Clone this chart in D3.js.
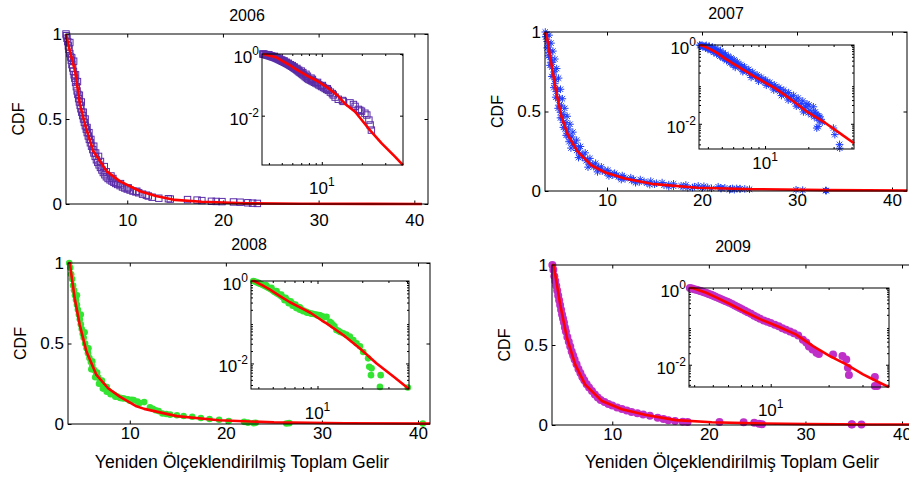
<!DOCTYPE html>
<html>
<head>
<meta charset="utf-8">
<script src="https://cdn.jsdelivr.net/npm/d3@7"></script>
<style>
  html, body { margin: 0; padding: 0; background: #fff; }
  svg { display: block; }
</style>
</head>
<body>
<svg id="chart" width="909" height="478"></svg>
<script>
// ---- data ----
const years = ['2006', '2007', '2008', '2009'];
const xTicks = [10, 20, 30, 40];
const yTicks = [0, 0.5, 1];
const xLabel = 'Yeniden Ölçeklendirilmiş Toplam Gelir';
const yLabel = 'CDF';

// 2006 - open squares
const x2006 = [3.6,3.65,3.7,3.78,3.85,3.92,4.0,4.08,4.15,4.22,4.3,4.38,4.45,4.52,4.6,4.68,4.76,4.84,4.92,5.0,
  5.08,5.16,5.25,5.34,5.43,5.52,5.62,5.72,5.82,5.93,6.04,6.15,6.27,6.4,6.52,6.65,6.78,6.92,7.06,7.2,
  7.35,7.5,7.66,7.82,8.0,8.2,8.4,8.6,8.8,9.0,9.25,9.5,9.75,10.0,10.3,10.6,10.9,11.2,11.6,12.0,
  12.2,12.6,13.3,14.3,14.5,16.3,17.3,17.8,18.8,19.3,19.9,21.1,21.8,22.6,23.1,23.6,
  4.0,4.4,4.8,5.2,5.6,6.0,6.5,7.0,7.6,8.3,
  4.2,4.6,5.0,5.4,5.8,6.2,6.7,7.2,7.8,8.5,9.3,10.1,11.0];
const y2006 = [1.0,0.99,0.975,0.955,0.93,0.91,0.885,0.865,0.845,0.82,0.8,0.78,0.76,0.74,0.715,0.69,0.665,0.645,0.62,0.6,
  0.58,0.56,0.54,0.52,0.5,0.48,0.46,0.44,0.42,0.4,0.38,0.36,0.34,0.32,0.3,0.28,0.26,0.245,0.23,0.215,
  0.2,0.185,0.172,0.16,0.15,0.142,0.135,0.128,0.121,0.115,0.108,0.1,0.094,0.088,0.082,0.076,0.071,0.066,0.058,0.052,
  0.047,0.04,0.034,0.031,0.029,0.026,0.023,0.02,0.016,0.015,0.014,0.012,0.0105,0.0072,0.005,0.0034,
  0.95,0.84,0.72,0.6,0.5,0.42,0.34,0.28,0.22,0.165,
  0.86,0.76,0.64,0.54,0.45,0.38,0.3,0.25,0.19,0.15,0.12,0.095,0.075];
const fitX2006 = [3.6, 4.0, 4.55, 5.07, 5.6, 6.46, 7.86, 9.25, 11.34, 13.0, 15.0, 17.8, 22.4, 28.2, 35.5, 40.8];
const fitY2006 = [1.0, 0.9, 0.78, 0.584, 0.466, 0.31, 0.192, 0.133, 0.075, 0.047, 0.024, 0.0134, 0.0039, 0.00126, 0.00047, 0.00025];

// 2007 - asterisks
const x2007 = [3.5,3.6,3.7,3.8,3.9,4.0,4.1,4.2,4.35,4.5,4.65,4.8,4.95,5.1,5.25,5.4,5.6,5.8,6.0,6.25,
  6.5,6.8,7.1,7.4,7.8,8.2,8.6,9.0,9.5,10.0,10.6,11.2,11.9,12.6,13.4,14.2,15.0,16.0,17.0,18.0,
  19.0,20.0,21.0,22.0,23.0,24.0,25.0,
  3.9,4.1,4.3,4.5,4.7,4.9,5.1,5.3,5.55,5.8,6.1,6.4,6.8,7.2,7.7,8.2,8.8,9.4,10.1,10.8,
  11.6,12.5,13.5,14.6,15.8,17.0,18.3,19.6,20.2,21.7,22.4,23.65,24.0,
  3.65,3.85,4.05,4.25,4.45,4.6,4.8,5.0,5.2,5.45,5.7,5.95,6.3,6.6,7.0,7.45,7.95,8.5,9.1,9.8,
  10.4,11.0,11.8,12.8,13.9,15.2,16.5,17.8,19.2,20.6,22.0,23.2,24.5,
  3.55,3.7,3.85,4.0,4.2,4.4,4.6,4.85,5.1,5.4,5.7,6.0,
  6.2,7.0,8.0,9.0,10.2,11.5,13.0,14.5,16.5,18.5,
  22.9,23.4,29.9,30.6,33.0,33.1];
const y2007 = [1.0,0.97,0.94,0.905,0.87,0.84,0.81,0.78,0.73,0.675,0.625,0.58,0.54,0.495,0.46,0.43,0.39,0.36,0.335,0.31,
  0.285,0.255,0.232,0.212,0.19,0.168,0.153,0.14,0.125,0.113,0.1,0.088,0.077,0.066,0.057,0.05,0.043,0.036,0.03,0.026,
  0.022,0.019,0.017,0.015,0.0135,0.012,0.011,
  0.98,0.93,0.88,0.83,0.77,0.71,0.64,0.58,0.52,0.47,0.42,0.37,0.32,0.28,0.24,0.205,0.175,0.152,0.13,0.112,
  0.097,0.084,0.072,0.062,0.053,0.045,0.038,0.032,0.03,0.027,0.02,0.016,0.015,
  0.985,0.93,0.875,0.81,0.75,0.7,0.64,0.585,0.535,0.48,0.43,0.39,0.34,0.3,0.265,0.228,0.195,0.168,0.146,0.127,
  0.112,0.1,0.087,0.073,0.06,0.049,0.04,0.033,0.027,0.022,0.019,0.016,0.013,
  0.97,0.9,0.85,0.79,0.72,0.65,0.59,0.52,0.46,0.4,0.35,0.31,
  0.27,0.21,0.15,0.12,0.095,0.072,0.052,0.04,0.028,0.02,
  0.0078,0.0085,0.0078,0.0053,0.003,0.0024];
const fitX2007 = [3.47, 3.7, 4.13, 4.66, 5.19, 5.89, 6.94, 8.34, 9.75, 11.86, 14.7, 19.5, 25.4, 33.1, 41.6];
const fitY2007 = [1.0, 0.96, 0.8, 0.62, 0.47, 0.35, 0.245, 0.162, 0.118, 0.078, 0.045, 0.0205, 0.0114, 0.0058, 0.0032];

// 2008 - green dots
const x2008 = [3.7,3.8,3.9,4.0,4.1,4.2,4.3,4.4,4.5,4.6,4.7,4.8,4.9,5.0,5.1,5.2,5.35,5.5,5.65,5.8,
  5.95,6.1,6.3,6.5,6.7,6.9,7.1,7.3,7.55,7.8,8.1,8.4,8.7,9.0,9.4,9.8,10.2,10.4,10.8,11.5,
  12.1,12.7,13.4,14.2,14.9,15.6,16.5,17.4,18.3,19.3,20.3,21.9,22.3,23.1,22.9,26.6,26.3,40.5,
  4.5,4.9,5.3,5.7,6.1,6.6,7.1,7.6,
  6.0,6.4,6.8,7.2,7.6,8.0,8.5,9.2,10.0,11.0,12.4,13.0,13.8];
const y2008 = [1.0,0.97,0.93,0.9,0.86,0.83,0.8,0.77,0.74,0.71,0.68,0.65,0.62,0.59,0.56,0.535,0.5,0.47,0.44,0.41,
  0.385,0.36,0.335,0.31,0.29,0.27,0.25,0.235,0.22,0.205,0.19,0.18,0.17,0.162,0.158,0.154,0.15,0.148,0.14,0.136,
  0.103,0.085,0.065,0.058,0.054,0.05,0.045,0.037,0.031,0.026,0.019,0.0133,0.0083,0.0076,0.0052,0.0052,0.0027,0.0026,
  0.8,0.68,0.57,0.47,0.39,0.32,0.27,0.23,
  0.34,0.29,0.25,0.22,0.2,0.185,0.17,0.16,0.145,0.13,0.095,0.08,0.062];
const fitX2008 = [3.6, 3.75, 4.27, 4.79, 5.49, 6.53, 7.74, 8.96, 10.7, 11.5, 14.9, 19.3, 25.0, 32.4, 41.25];
const fitY2008 = [1.0, 1.0, 0.78, 0.616, 0.45, 0.305, 0.222, 0.17, 0.11, 0.094, 0.049, 0.023, 0.01, 0.0048, 0.0024];

// 2009 - magenta dots
const x2009 = [3.8,3.9,4.0,4.1,4.2,4.3,4.4,4.5,4.6,4.7,4.8,4.9,5.0,5.1,5.2,5.35,5.5,5.65,5.8,5.95,
  6.1,6.3,6.5,6.7,6.9,7.1,7.35,7.6,7.9,8.2,8.5,8.8,9.2,9.6,10.0,10.5,11.0,11.5,12.0,12.6,
  13.2,13.9,14.7,15.3,15.8,16.5,17.3,17.8,21.1,23.6,24.7,25.2,25.5,34.8,34.8,35.8];
const y2009 = [1.0,0.97,0.93,0.9,0.87,0.84,0.81,0.78,0.75,0.72,0.69,0.665,0.64,0.61,0.585,0.55,0.52,0.49,0.46,0.435,
  0.41,0.38,0.35,0.325,0.3,0.28,0.255,0.235,0.212,0.19,0.172,0.157,0.143,0.132,0.122,0.11,0.1,0.09,0.082,0.074,
  0.066,0.058,0.045,0.038,0.03,0.025,0.0205,0.019,0.0185,0.0168,0.0138,0.0083,0.0054,0.0048,0.0028,0.0028];
const fitX2009 = [3.76, 3.93, 4.62, 5.31, 6.17, 7.2, 8.93, 11.0, 13.5, 16.6, 20.3, 24.7, 30.2, 36.9, 41.2];
const fitY2009 = [1.0, 1.0, 0.75, 0.544, 0.377, 0.252, 0.15, 0.098, 0.062, 0.0306, 0.0168, 0.0102, 0.0056, 0.0034, 0.0026];

// ---- layout ----
const font = '"Liberation Sans", Arial, Helvetica, sans-serif';
const fs = 17;
const red = '#ff0000';

const panels = [
  { title: years[0], xs: x2006, ys: y2006, fx: fitX2006, fy: fitY2006, marker: 'square', color: '#5a2da8',
    main: { l: 66, t: 34, r: 428, b: 204 }, xDomain: [3.6, 41.43], xPad: 9.5,
    ins: { l: 262, t: 54, r: 403, b: 165 }, insX: [3.55, 40.8], insYMin: Math.pow(10, -3.6), insMinorY: false, insLab: 23,
    xl: false },
  { title: years[1], xs: x2007, ys: y2007, fx: fitX2007, fy: fitY2007, marker: 'star', color: '#1e3cff',
    main: { l: 545, t: 32, r: 907, b: 191 }, xDomain: [3.47, 41.58], xPad: 3,
    ins: { l: 699, t: 45, r: 854, b: 149 }, insX: [3.47, 41.6], insYMin: Math.pow(10, -2.64), insMinorY: true, insLab: 14,
    xl: false },
  { title: years[2], xs: x2008, ys: y2008, fx: fitX2008, fy: fitY2008, marker: 'dot', color: '#33e433', r: 3.3,
    main: { l: 68, t: 263, r: 430, b: 424 }, xDomain: [3.57, 41.25], xPad: 3,
    ins: { l: 251, t: 281, r: 409, b: 389 }, insX: [3.57, 41.25], insYMin: Math.pow(10, -2.62), insMinorY: true, insLab: 24,
    xl: true, xlX: 242 },
  { title: years[3], xs: x2009, ys: y2009, fx: fitX2009, fy: fitY2009, marker: 'dot', color: '#bf30c8', r: 4,
    main: { l: 552, t: 265, r: 914, b: 425 }, xDomain: [3.76, 41.24], xPad: 3,
    ins: { l: 689, t: 288, r: 889, b: 387 }, insX: [3.76, 41.2], insYMin: Math.pow(10, -2.58), insMinorY: true, insLab: 23,
    xl: true, xlX: 732 }
];

const svg = d3.select('#chart');
svg.append('rect').attr('width', 909).attr('height', 478).attr('fill', '#fff');

function styleAxis(sel) {
  sel.select('.domain').remove();
  sel.attr('font-family', font).attr('font-size', fs);
  sel.selectAll('line').attr('stroke', '#000');
}

function drawMarkers(g, p, x, y) {
  const pts = p.xs.map((d, i) => [d, p.ys[i]]);
  if (p.marker === 'square') {
    g.selectAll(null).data(pts).enter().append('rect')
      .attr('x', d => x(d[0]) - 3.2).attr('y', d => y(d[1]) - 3.2)
      .attr('width', 6.4).attr('height', 6.4)
      .attr('fill', 'none').attr('stroke', p.color).attr('stroke-width', 1);
  } else if (p.marker === 'star') {
    const h = 3.8, k = 2.7;
    g.selectAll(null).data(pts).enter().append('path')
      .attr('transform', d => `translate(${x(d[0])},${y(d[1])})`)
      .attr('d', `M${-h},0L${h},0M0,${-h}L0,${h}M${-k},${-k}L${k},${k}M${-k},${k}L${k},${-k}`)
      .attr('stroke', p.color).attr('stroke-width', 1).attr('fill', 'none');
  } else {
    g.selectAll(null).data(pts).enter().append('circle')
      .attr('cx', d => x(d[0])).attr('cy', d => y(d[1])).attr('r', p.r)
      .attr('fill', p.color);
  }
}

function drawFit(g, p, x, y) {
  const line = d3.line().x(d => x(d[0])).y(d => y(d[1]));
  g.append('path').datum(p.fx.map((d, i) => [d, p.fy[i]]))
    .attr('d', line).attr('fill', 'none').attr('stroke', red)
    .attr('stroke-width', 2.6).attr('stroke-linejoin', 'round');
}

function powLabel(g, px, py, exp, anchor) {
  const t = g.append('text').attr('x', px).attr('y', py).attr('text-anchor', anchor)
    .attr('font-family', font).attr('font-size', fs);
  t.append('tspan').text('10');
  t.append('tspan').attr('dy', -8).attr('font-size', 12).text(exp);
}

function drawPanel(p) {
  const g = svg.append('g');
  const m = p.main;
  const x = d3.scaleLinear().domain(p.xDomain).range([m.l, m.r]);
  const y = d3.scaleLinear().domain([0, 1]).range([m.b, m.t]);

  // main axes
  g.append('g').attr('transform', `translate(0,${m.b})`)
    .call(d3.axisBottom(x).tickValues(xTicks).tickSize(-3.5).tickPadding(p.xPad).tickFormat(d => `${d}`))
    .call(styleAxis);
  g.append('g').attr('transform', `translate(0,${m.t})`)
    .call(d3.axisTop(x).tickValues(xTicks).tickSize(-3.5).tickFormat(''))
    .call(styleAxis);
  g.append('g').attr('transform', `translate(${m.l},0)`)
    .call(d3.axisLeft(y).tickValues(yTicks).tickSize(-3.5).tickPadding(4).tickFormat(d => `${d}`))
    .call(styleAxis);
  g.append('g').attr('transform', `translate(${m.r},0)`)
    .call(d3.axisRight(y).tickValues(yTicks).tickSize(-3.5).tickFormat(''))
    .call(styleAxis);

  drawMarkers(g, p, x, y);
  drawFit(g, p, x, y);

  g.append('rect').attr('x', m.l).attr('y', m.t).attr('width', m.r - m.l).attr('height', m.b - m.t)
    .attr('fill', 'none').attr('stroke', '#000').attr('stroke-width', 1);

  // labels
  g.append('text').attr('x', (m.l + m.r) / 2).attr('y', m.t - 19).attr('dy', '0.35em')
    .attr('text-anchor', 'middle').attr('font-family', font).attr('font-size', fs - 1).text(p.title);
  g.append('text').attr('transform', `translate(${m.l - 48},${(m.t + m.b) / 2}) rotate(-90)`)
    .attr('dy', '0.35em').attr('text-anchor', 'middle')
    .attr('font-family', font).attr('font-size', fs - 1).text(yLabel);
  if (p.xl) {
    g.append('text').attr('x', p.xlX).attr('y', 462).attr('dy', '0.35em')
      .attr('text-anchor', 'middle').attr('font-family', font).attr('font-size', 17.6).text(xLabel);
  }

  // inset, log-log
  const n = p.ins;
  const xl = d3.scaleLog().domain(p.insX).range([n.l, n.r]);
  const yl = d3.scaleLog().domain([p.insYMin, 1]).range([n.b, n.t]);
  const gi = g.append('g');
  gi.append('rect').attr('x', n.l).attr('y', n.t).attr('width', n.r - n.l).attr('height', n.b - n.t)
    .attr('fill', '#fff');

  const minorX = [4, 5, 6, 7, 8, 9, 20, 30, 40].filter(v => v > p.insX[0] && v < p.insX[1]);
  const minorY = [];
  if (p.insMinorY) {
    [0.001, 0.01, 0.1].forEach(dec => {
      for (let k = 2; k <= 9; k++) {
        const v = dec * k;
        if (v > p.insYMin && v < 1) minorY.push(v);
      }
    });
  }
  const majorY = [0.01, 1];

  [[d3.axisBottom, n.b], [d3.axisTop, n.t]].forEach(([ax, pos]) => {
    gi.append('g').attr('transform', `translate(0,${pos})`)
      .call(ax(xl).tickValues([10]).tickSize(-3).tickFormat('')).call(styleAxis);
    gi.append('g').attr('transform', `translate(0,${pos})`)
      .call(ax(xl).tickValues(minorX).tickSize(-2).tickFormat('')).call(styleAxis);
  });
  [[d3.axisLeft, n.l], [d3.axisRight, n.r]].forEach(([ax, pos]) => {
    gi.append('g').attr('transform', `translate(${pos},0)`)
      .call(ax(yl).tickValues(majorY).tickSize(-3).tickFormat('')).call(styleAxis);
    if (minorY.length) {
      gi.append('g').attr('transform', `translate(${pos},0)`)
        .call(ax(yl).tickValues(minorY).tickSize(-2).tickFormat('')).call(styleAxis);
    }
  });

  drawMarkers(gi, p, xl, yl);
  drawFit(gi, p, xl, yl);

  gi.append('rect').attr('x', n.l).attr('y', n.t).attr('width', n.r - n.l).attr('height', n.b - n.t)
    .attr('fill', 'none').attr('stroke', '#000').attr('stroke-width', 1);

  powLabel(gi, n.l - 3, yl(1) + 9, '0', 'end');
  powLabel(gi, n.l - 3, yl(0.01) + 9, '-2', 'end');
  powLabel(gi, xl(10), n.b + p.insLab + 6, '1', 'middle');
}

panels.forEach(drawPanel);
</script>
</body>
</html>
